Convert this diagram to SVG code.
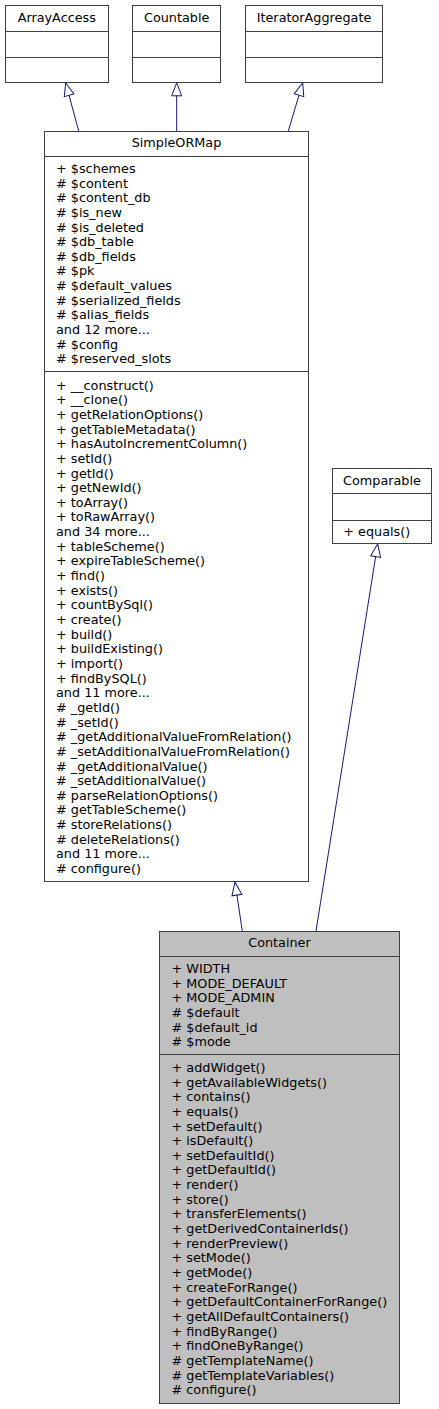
<svg xmlns="http://www.w3.org/2000/svg" width="439" height="1409" viewBox="0 0 439 1409">
<style>
.box{fill:#ffffff;stroke:#404040;stroke-width:1}
.cur{fill:#bfbfbf;stroke:#404040;stroke-width:1}
.div{stroke:#404040;stroke-width:1}
text{font-family:"DejaVu Sans","Liberation Sans",sans-serif;font-size:12.8px;fill:#000000}
.t{text-anchor:middle}
.edge{stroke:#191970;stroke-width:1;fill:none;marker-end:url(#tri)}
</style>
<defs>
<marker id="tri" markerUnits="userSpaceOnUse" markerWidth="16" markerHeight="12" refX="13.5" refY="5.5" orient="auto" viewBox="-1 -0.5 16 12">
<path d="M0.5,0.5 L13.5,5.5 L0.5,10.5 Z" fill="#ffffff" stroke="#191970" stroke-width="1"/>
</marker>
</defs>
<rect width="439" height="1409" fill="#ffffff"/>
<g id="connectors">
<line class="edge" x1="78.7" y1="131" x2="65.7" y2="82.8"/>
<line class="edge" x1="176.7" y1="131" x2="176.7" y2="82.8"/>
<line class="edge" x1="288.3" y1="131" x2="302.7" y2="82.8"/>
<line class="edge" x1="242.3" y1="931" x2="235" y2="882.2"/>
<line class="edge" x1="316" y1="931" x2="377.7" y2="543.8"/>
</g>
<g id="ArrayAccess">
<rect class="box" x="5.5" y="5.5" width="103" height="77"/>
<line class="div" x1="5.5" y1="31.5" x2="108.5" y2="31.5"/>
<line class="div" x1="5.5" y1="57.5" x2="108.5" y2="57.5"/>
<text class="t" x="56.8" y="21.9">ArrayAccess</text>
</g>
<g id="Countable">
<rect class="box" x="132.5" y="5.5" width="88" height="77"/>
<line class="div" x1="132.5" y1="31.5" x2="220.5" y2="31.5"/>
<line class="div" x1="132.5" y1="57.5" x2="220.5" y2="57.5"/>
<text class="t" x="176.7" y="21.9">Countable</text>
</g>
<g id="IteratorAggregate">
<rect class="box" x="245.5" y="5.5" width="137" height="77"/>
<line class="div" x1="245.5" y1="31.5" x2="382.5" y2="31.5"/>
<line class="div" x1="245.5" y1="57.5" x2="382.5" y2="57.5"/>
<text class="t" x="314" y="21.9">IteratorAggregate</text>
</g>
<g id="SimpleORMap">
<rect class="box" x="44.5" y="131.5" width="264" height="750"/>
<line class="div" x1="44.5" y1="156.5" x2="308.5" y2="156.5"/>
<line class="div" x1="44.5" y1="371.5" x2="308.5" y2="371.5"/>
<text class="t" x="176.5" y="147.3">SimpleORMap</text>
<text x="56" y="172.9">+ $schemes</text>
<text x="56" y="187.55"># $content</text>
<text x="56" y="202.2"># $content_db</text>
<text x="56" y="216.85"># $is_new</text>
<text x="56" y="231.5"># $is_deleted</text>
<text x="56" y="246.15"># $db_table</text>
<text x="56" y="260.8"># $db_fields</text>
<text x="56" y="275.45"># $pk</text>
<text x="56" y="290.1"># $default_values</text>
<text x="56" y="304.75"># $serialized_fields</text>
<text x="56" y="319.4"># $alias_fields</text>
<text x="56" y="334.05">and 12 more...</text>
<text x="56" y="348.7"># $config</text>
<text x="56" y="363.35"># $reserved_slots</text>
<text x="56" y="389.6">+ __construct()</text>
<text x="56" y="404.25">+ __clone()</text>
<text x="56" y="418.9">+ getRelationOptions()</text>
<text x="56" y="433.55">+ getTableMetadata()</text>
<text x="56" y="448.2">+ hasAutoIncrementColumn()</text>
<text x="56" y="462.85">+ setId()</text>
<text x="56" y="477.5">+ getId()</text>
<text x="56" y="492.15">+ getNewId()</text>
<text x="56" y="506.8">+ toArray()</text>
<text x="56" y="521.45">+ toRawArray()</text>
<text x="56" y="536.1">and 34 more...</text>
<text x="56" y="550.75">+ tableScheme()</text>
<text x="56" y="565.4">+ expireTableScheme()</text>
<text x="56" y="580.05">+ find()</text>
<text x="56" y="594.7">+ exists()</text>
<text x="56" y="609.35">+ countBySql()</text>
<text x="56" y="624">+ create()</text>
<text x="56" y="638.65">+ build()</text>
<text x="56" y="653.3">+ buildExisting()</text>
<text x="56" y="667.95">+ import()</text>
<text x="56" y="682.6">+ findBySQL()</text>
<text x="56" y="697.25">and 11 more...</text>
<text x="56" y="711.9"># _getId()</text>
<text x="56" y="726.55"># _setId()</text>
<text x="56" y="741.2"># _getAdditionalValueFromRelation()</text>
<text x="56" y="755.85"># _setAdditionalValueFromRelation()</text>
<text x="56" y="770.5"># _getAdditionalValue()</text>
<text x="56" y="785.15"># _setAdditionalValue()</text>
<text x="56" y="799.8"># parseRelationOptions()</text>
<text x="56" y="814.45"># getTableScheme()</text>
<text x="56" y="829.1"># storeRelations()</text>
<text x="56" y="843.75"># deleteRelations()</text>
<text x="56" y="858.4">and 11 more...</text>
<text x="56" y="873.05"># configure()</text>
</g>
<g id="Comparable">
<rect class="box" x="332.5" y="468.5" width="99" height="75"/>
<line class="div" x1="332.5" y1="493.5" x2="431.5" y2="493.5"/>
<line class="div" x1="332.5" y1="520.5" x2="431.5" y2="520.5"/>
<text class="t" x="382" y="485.3">Comparable</text>
<text x="343.3" y="536.3">+ equals()</text>
</g>
<g id="Container">
<rect class="cur" x="159.5" y="931.5" width="240" height="472"/>
<line class="div" x1="159.5" y1="956.5" x2="399.5" y2="956.5"/>
<line class="div" x1="159.5" y1="1054.5" x2="399.5" y2="1054.5"/>
<text class="t" x="279.5" y="946.9">Container</text>
<text x="171.5" y="972.9">+ WIDTH</text>
<text x="171.5" y="987.55">+ MODE_DEFAULT</text>
<text x="171.5" y="1002.2">+ MODE_ADMIN</text>
<text x="171.5" y="1016.85"># $default</text>
<text x="171.5" y="1031.5"># $default_id</text>
<text x="171.5" y="1046.15"># $mode</text>
<text x="171.5" y="1071.9">+ addWidget()</text>
<text x="171.5" y="1086.55">+ getAvailableWidgets()</text>
<text x="171.5" y="1101.2">+ contains()</text>
<text x="171.5" y="1115.85">+ equals()</text>
<text x="171.5" y="1130.5">+ setDefault()</text>
<text x="171.5" y="1145.15">+ isDefault()</text>
<text x="171.5" y="1159.8">+ setDefaultId()</text>
<text x="171.5" y="1174.45">+ getDefaultId()</text>
<text x="171.5" y="1189.1">+ render()</text>
<text x="171.5" y="1203.75">+ store()</text>
<text x="171.5" y="1218.4">+ transferElements()</text>
<text x="171.5" y="1233.05">+ getDerivedContainerIds()</text>
<text x="171.5" y="1247.7">+ renderPreview()</text>
<text x="171.5" y="1262.35">+ setMode()</text>
<text x="171.5" y="1277">+ getMode()</text>
<text x="171.5" y="1291.65">+ createForRange()</text>
<text x="171.5" y="1306.3">+ getDefaultContainerForRange()</text>
<text x="171.5" y="1320.95">+ getAllDefaultContainers()</text>
<text x="171.5" y="1335.6">+ findByRange()</text>
<text x="171.5" y="1350.25">+ findOneByRange()</text>
<text x="171.5" y="1364.9"># getTemplateName()</text>
<text x="171.5" y="1379.55"># getTemplateVariables()</text>
<text x="171.5" y="1394.2"># configure()</text>
</g>
</svg>
